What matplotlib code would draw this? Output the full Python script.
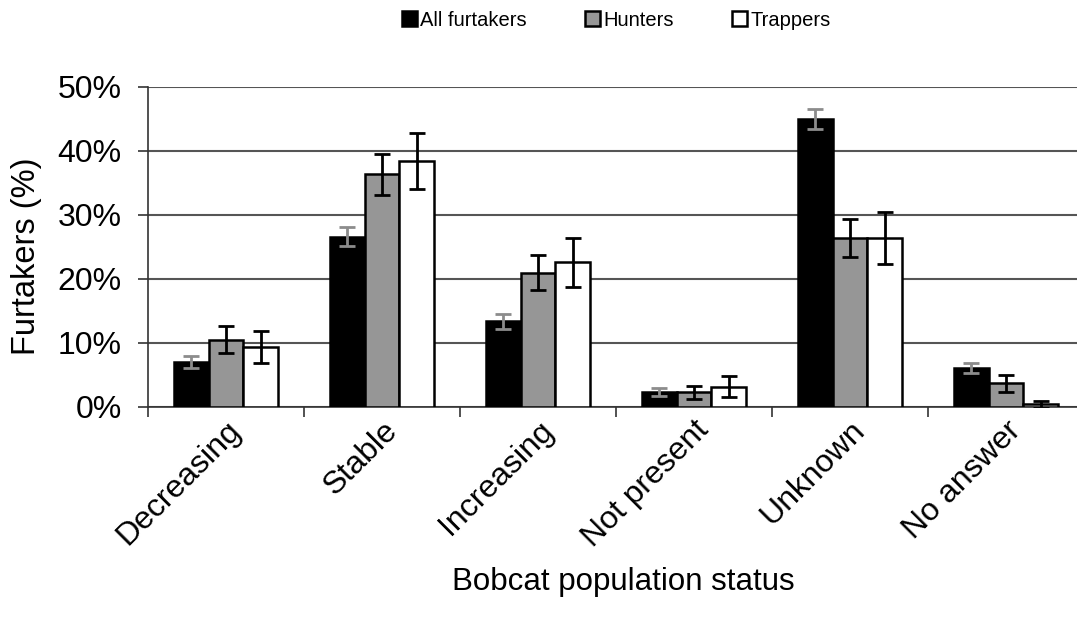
import numpy as np
import matplotlib.pyplot as plt
from matplotlib.ticker import FuncFormatter

plt.rcParams['font.family'] = ['Liberation Sans', 'DejaVu Sans']

categories = ['Decreasing', 'Stable', 'Increasing', 'Not present', 'Unknown', 'No answer']
series = ['All furtakers', 'Hunters', 'Trappers']

all_furtakers = [7.0, 26.6, 13.4, 2.3, 45.0, 6.1]
all_err = [0.9, 1.5, 1.2, 0.6, 1.6, 0.8]
hunters = [10.5, 36.4, 21.0, 2.3, 26.4, 3.7]
hunters_err = [2.1, 3.2, 2.7, 1.0, 3.0, 1.3]
trappers = [9.3, 38.4, 22.6, 3.2, 26.4, 0.4]
trappers_err = [2.5, 4.4, 3.8, 1.6, 4.0, 0.6]

values = [all_furtakers, hunters, trappers]
errors = [all_err, hunters_err, trappers_err]
fills = ['black', '#969696', 'white']
err_colors = ['#8c8c8c', 'black', 'black']

fig = plt.figure(figsize=(10.77, 6.26), dpi=100)
ax = fig.add_axes([148/1077, 219/626, 936/1077, 320/626])

x = np.arange(len(categories))
w = 1 / 4.5
for i in range(3):
    ax.bar(x + (i - 1) * w, values[i], width=w, color=fills[i],
           edgecolor='black', linewidth=1.8, label=series[i], zorder=3)
    ax.errorbar(x + (i - 1) * w, values[i], yerr=errors[i], fmt='none',
                ecolor=err_colors[i], elinewidth=2, capsize=6, capthick=2, zorder=4)

ax.set_xlim(-0.5, len(categories) - 0.5)
ax.set_ylim(0, 50)
ax.set_yticks([0, 10, 20, 30, 40, 50])
ax.yaxis.set_major_formatter(FuncFormatter(lambda v, p: '%d%%' % v))
ax.grid(axis='y', color='#555555', linewidth=1.5, zorder=0)
ax.set_axisbelow(True)

# category labels sit at centres, tick marks between groups
ax.set_xticks(x)
ax.set_xticklabels(categories, rotation=45, ha='right', rotation_mode='anchor')
ax.set_xticks(np.arange(len(categories) + 1) - 0.5, minor=True)
ax.tick_params(axis='x', which='major', length=0, pad=6, labelsize=23)
ax.tick_params(axis='x', which='minor', length=7, width=1.2, color='#333333')
ax.tick_params(axis='y', length=7, width=1.2, color='#333333', labelsize=23, pad=12)

for s in ['top', 'right']:
    ax.spines[s].set_visible(False)
ax.spines['left'].set_color('#333333')
ax.spines['left'].set_linewidth(1.2)
ax.spines['bottom'].set_color('#333333')
ax.spines['bottom'].set_linewidth(1.2)

ax.set_ylabel('Furtakers (%)', fontsize=23.5)
ax.yaxis.set_label_coords(-0.113, 0.47)
ax.set_xlabel('Bobcat population status', fontsize=22.5)
ax.xaxis.set_label_coords(0.508, -0.50)

fig.legend(loc='upper center', bbox_to_anchor=(0.572, 1.012), ncol=3, frameon=False,
           fontsize=14.5, handlelength=0.75, handleheight=0.75, handletextpad=0.15,
           columnspacing=2.9)

fig.savefig('out.png', dpi=100)
